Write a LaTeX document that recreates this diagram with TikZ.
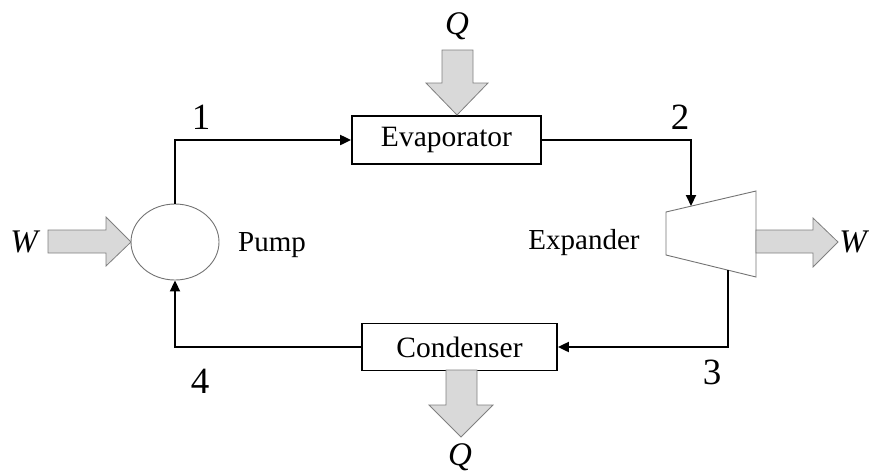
\documentclass[tikz,border=0pt]{standalone}
\usepackage{fontspec}
\setmainfont{Liberation Serif}
\usetikzlibrary{arrows.meta,shapes.geometric}
\begin{document}
\begin{tikzpicture}[x=1pt,y=-1pt,
  conn/.style={line width=2pt,-{Triangle[length=11pt,width=10pt]}},
  box/.style={draw,line width=1.8pt,inner sep=0pt,font=\fontsize{29.5}{34}\selectfont},
  fat/.style={fill=black!15,draw=black!50,line width=0.8pt},
  lbl/.style={font=\fontsize{29}{34}\selectfont},
  num/.style={font=\fontsize{37}{42}\selectfont},
  sym/.style={font=\fontsize{33}{38}\selectfont\itshape}]
\useasboundingbox (0,0) rectangle (869,475);
% components
\node[box,minimum width=189pt,minimum height=48pt] (evap) at (446.5,140) {Evaporator};
\node[box,minimum width=195pt,minimum height=47pt] (cond) at (459.5,347) {Condenser};
\node[draw=black!55,line width=0.9pt,ellipse,minimum width=88pt,minimum height=76pt,inner sep=0pt] (pump) at (175,242) {};
\draw[draw=black!55,line width=0.9pt] (666,212) -- (756,191) -- (756,277) -- (666,255) -- cycle;
\coordinate (expin) at (691,206);
\coordinate (expout) at (728,270);
% connectors
\draw[conn] (pump.north) |- (evap.west);
\draw[conn] (evap.east) -| (expin);
\draw[conn] (expout) |- (cond.east);
\draw[conn] (cond.west) -| (pump.south);
% fat arrows
\draw[fat] (442,50) -- (473,50) -- (473,83) -- (488,83) -- (457,115) -- (426,83) -- (442,83) -- cycle;
\draw[fat] (446,370) -- (477,370) -- (477,405) -- (493,405) -- (461,437) -- (429,405) -- (446,405) -- cycle;
\draw[fat] (48,230) -- (106,230) -- (106,217) -- (131,242) -- (106,266) -- (106,253) -- (48,253) -- cycle;
\draw[fat] (756,230) -- (813,230) -- (813,218) -- (838,242) -- (813,267) -- (813,253) -- (756,253) -- cycle;
% labels
\node[sym] (qin) at (457,26) {Q};
\node[sym] (qout) at (460,457) {Q};
\node[sym] (win) at (24,242) {W};
\node[sym] (wout) at (853,242) {W};
\node[lbl] (pumpl) at (272,245) {Pump};
\node[lbl] (expl) at (584,243) {Expander};
\node[num] (n1) at (201,117) {1};
\node[num] (n2) at (680,117) {2};
\node[num] (n3) at (712,372) {3};
\node[num] (n4) at (200,381) {4};
\end{tikzpicture}
\end{document}
